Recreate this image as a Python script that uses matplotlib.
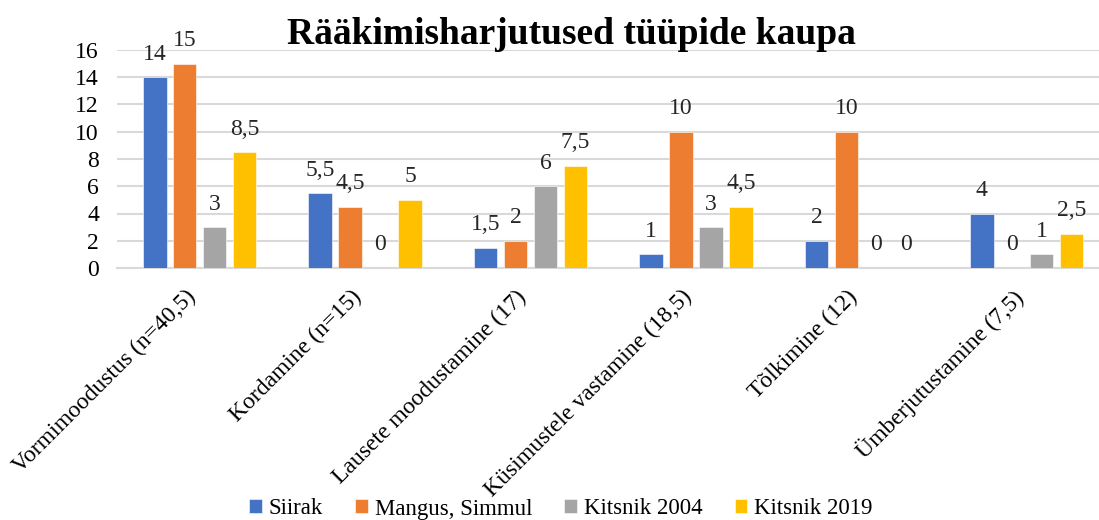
import matplotlib
matplotlib.use("Agg")
import matplotlib.pyplot as plt
import matplotlib.transforms as mtransforms
import numpy as np

plt.rcParams["font.family"] = ["Liberation Serif", "DejaVu Serif"]

# ── Data ─────────────────────────────────────────────────
categories = [
    "Vormimoodustus (n=40,5)",
    "Kordamine (n=15)",
    "Lausete moodustamine (17)",
    "Küsimustele vastamine (18,5)",
    "Tõlkimine (12)",
    "Ümberjutustamine (7,5)",
]
series_names = ["Siirak", "Mangus, Simmul", "Kitsnik 2004", "Kitsnik 2019"]
siirak      = [14, 5.5, 1.5, 1, 2, 4]
mangus      = [15, 4.5, 2, 10, 10, 0]
kitsnik2004 = [3, 0, 6, 3, 0, 1]
kitsnik2019 = [8.5, 5, 7.5, 4.5, 0, 2.5]
yticks = [0, 2, 4, 6, 8, 10, 12, 14, 16]

colors = ["#4472C4", "#ED7D31", "#A5A5A5", "#FFC000"]
all_series = [siirak, mangus, kitsnik2004, kitsnik2019]


def fmt(v):
    # Estonian decimal comma
    return f"{v:g}".replace(".", ",")


# ── Plot ─────────────────────────────────────────────────
fig = plt.figure(figsize=(10.99, 5.2), dpi=100)
ax = fig.add_axes([117 / 1099, 1 - 268 / 520, 1 - 117 / 1099, 218 / 520])

x = np.arange(len(categories))
width = 0.142
pitch = 0.181
offsets = (np.arange(4) - 1.5) * pitch

for vals, name, col, off in zip(all_series, series_names, colors, offsets):
    bars = ax.bar(x + off, vals, width, color=col, label=name, zorder=3,
                  edgecolor="white", linewidth=0.4)
    for b, v in zip(bars, vals):
        ax.annotate(fmt(v), (b.get_x() + b.get_width() / 2, v),
                    xytext=(0, 9), textcoords="offset points",
                    ha="center", va="bottom", fontsize=17, color="#262626")

ax.set_ylim(0, 16)
ax.set_xlim(-0.5, 5.437)
ax.set_yticks(yticks)
ax.set_yticklabels([str(t) for t in yticks], fontsize=17)
ax.yaxis.grid(True, color="#D9D9D9", linewidth=1.5, zorder=0)
ax.set_axisbelow(True)
for sp in ["top", "right", "left"]:
    ax.spines[sp].set_visible(False)
ax.spines["bottom"].set_color("#D9D9D9")
ax.spines["bottom"].set_linewidth(1.5)
ax.tick_params(axis="both", length=0)
ax.tick_params(axis="y", pad=13)
ax.tick_params(axis="x", pad=17)
ax.set_xticks(x)
ax.set_xticklabels(categories, rotation=45, ha="right", va="center",
                   rotation_mode="anchor", fontsize=17)
shift = mtransforms.ScaledTranslation(-0.07, -0.02, fig.dpi_scale_trans)
for lbl in ax.get_xticklabels():
    lbl.set_transform(lbl.get_transform() + shift)

fig.text(571 / 1099, 1 - 35 / 520, "Rääkimisharjutused tüüpide kaupa",
         ha="center", va="center", fontsize=27, fontweight="bold")

fig.legend(loc="center", bbox_to_anchor=(561 / 1099, 1 - 509 / 520), ncol=4,
           frameon=False, fontsize=16.5, handlelength=0.55, handleheight=0.55,
           handletextpad=0.3, columnspacing=1.4)

plt.savefig("out.png", dpi=100)
